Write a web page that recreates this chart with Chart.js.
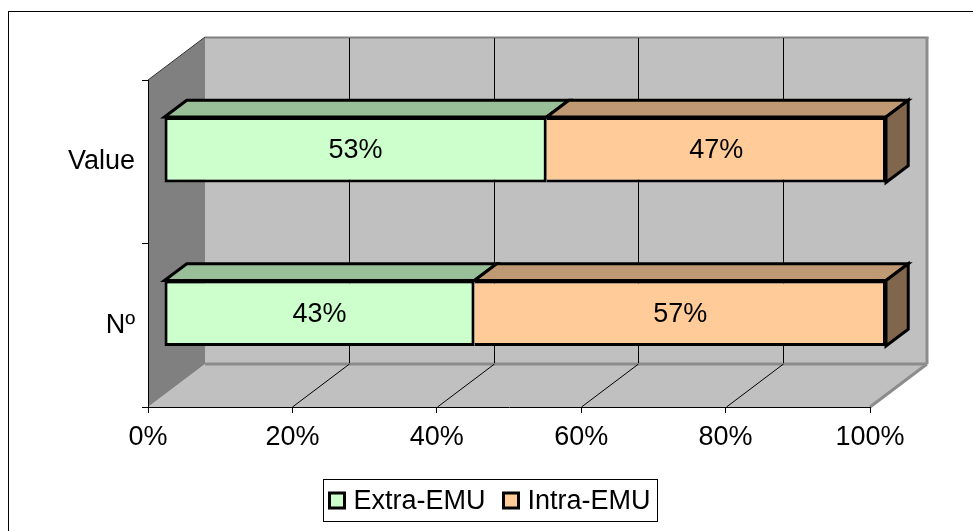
<!DOCTYPE html>
<html>
<head>
<meta charset="utf-8">
<script src="https://cdn.jsdelivr.net/npm/chart.js@4.4.0/dist/chart.umd.min.js"></script>
<style>
  html, body { margin: 0; padding: 0; background: #fff; }
  canvas { display: block; }
</style>
</head>
<body>
<canvas id="chart" width="973" height="531"></canvas>
<script>
// Share of trade outside / inside the euro area, by value and by number
const categories = ['Value', 'Nº'];
const seriesNames = ['Extra-EMU', 'Intra-EMU'];
const extraEmu = [53, 43];
const intraEmu = [47, 57];
const tickValues = [0, 20, 40, 60, 80, 100];

const FONT_FAMILY = '"Liberation Sans", Arial, Helvetica, sans-serif';
const FONT_SIZE = 27;
const FRONT_COLORS = ['#CCFFCC', '#FFCC99'];

// Perspective depth of the plot box and where the bars sit inside it
const DEPTH = { x: 57, y: -43 };
const BAR_FRONT = 0.28;
const BAR_BACK = 0.67;

function shade(hex, k) {
  const n = parseInt(hex.slice(1), 16);
  const r = Math.round(((n >> 16) & 255) * k);
  const g = Math.round(((n >> 8) & 255) * k);
  const b = Math.round((n & 255) * k);
  return 'rgb(' + r + ',' + g + ',' + b + ')';
}

function polygon(ctx, pts, fill, stroke, lw) {
  ctx.beginPath();
  ctx.moveTo(pts[0][0], pts[0][1]);
  for (let i = 1; i < pts.length; i++) ctx.lineTo(pts[i][0], pts[i][1]);
  ctx.closePath();
  if (fill) { ctx.fillStyle = fill; ctx.fill(); }
  if (stroke) { ctx.strokeStyle = stroke; ctx.lineWidth = lw || 1; ctx.stroke(); }
}

function line(ctx, x1, y1, x2, y2, color, lw) {
  ctx.beginPath();
  ctx.moveTo(x1, y1);
  ctx.lineTo(x2, y2);
  ctx.strokeStyle = color;
  ctx.lineWidth = lw;
  ctx.stroke();
}

const barOffset = () => ({
  x: Math.round(BAR_FRONT * DEPTH.x),
  y: Math.round(BAR_FRONT * DEPTH.y)
});

// Walls, floor, 3D bar faces, value labels and the boxed legend
const box3d = {
  id: 'box3d',
  beforeDraw(chart) {
    const { ctx, chartArea: a, scales } = chart;
    const xs = scales.x;
    const L = a.left, R = a.right, T = a.top, B = a.bottom;
    const dx = DEPTH.x, dy = DEPTH.y;
    ctx.save();
    ctx.fillStyle = '#fff';
    ctx.fillRect(0, 0, chart.width, chart.height);
    // outer frame
    ctx.strokeStyle = '#000';
    ctx.lineWidth = 1;
    ctx.strokeRect(8.5, 11.5, chart.width + 20, chart.height + 20);

    // back wall
    polygon(ctx, [[L + dx, T + dy], [R + dx, T + dy], [R + dx, B + dy], [L + dx, B + dy]], '#C0C0C0');
    // floor
    polygon(ctx, [[L, B], [R, B], [R + dx, B + dy], [L + dx, B + dy]], '#C0C0C0');
    // side wall
    polygon(ctx, [[L, T], [L + dx, T + dy], [L + dx, B + dy], [L, B]], '#808080');

    // wall edges
    line(ctx, L + dx, T + dy + 0.5, R + dx + 1.5, T + dy + 0.5, '#808080', 2);
    line(ctx, R + dx, T + dy, R + dx, B + dy, '#8C8C8C', 3);
    line(ctx, L + dx, B + dy, R + dx, B + dy, '#8C8C8C', 3);
    line(ctx, R, B, R + dx, B + dy, '#8C8C8C', 3);
    line(ctx, L, T, L + dx, T + dy, '#333', 1);

    // gridlines on the back wall and across the floor
    tickValues.forEach(v => {
      if (v === tickValues[0] || v === tickValues[tickValues.length - 1]) return;
      const px = Math.round(xs.getPixelForValue(v)) + 0.5;
      line(ctx, px + dx, T + dy + 1, px + dx, B + dy - 1, '#000', 1);
      line(ctx, px, B, px + dx, B + dy, '#000', 1);
    });
    ctx.restore();
  },
  beforeDatasetsDraw(chart) {
    const { ctx } = chart;
    const off = barOffset();
    const bdx = (BAR_BACK - BAR_FRONT) * DEPTH.x;
    const bdy = (BAR_BACK - BAR_FRONT) * DEPTH.y;
    ctx.save();
    ctx.lineJoin = 'miter';
    const nSets = chart.data.datasets.length;
    chart.data.datasets.forEach((ds, di) => {
      const meta = chart.getDatasetMeta(di);
      meta.data.forEach(el => {
        const x0 = Math.min(el.base, el.x) + off.x;
        const x1 = Math.max(el.base, el.x) + off.x;
        const yTop = el.y - el.height / 2 + off.y;
        const yBot = el.y + el.height / 2 + off.y;
        const col = FRONT_COLORS[di];
        // top face
        polygon(ctx, [[x0, yTop], [x0 + bdx, yTop + bdy], [x1 + bdx, yTop + bdy], [x1, yTop]],
          shade(col, 0.75), '#000', 3);
        // right face of the last segment
        if (di === nSets - 1) {
          polygon(ctx, [[x1, yTop], [x1 + bdx, yTop + bdy], [x1 + bdx, yBot + bdy], [x1, yBot]],
            shade(col, 0.5), '#000', 3);
        }
      });
    });
    ctx.restore();
    // front faces are drawn by the bar elements, shifted into the box
    ctx.save();
    ctx.translate(off.x, off.y);
  },
  afterDatasetsDraw(chart) {
    const { ctx } = chart;
    ctx.restore();
    const off = barOffset();
    ctx.save();
    ctx.font = FONT_SIZE + 'px ' + FONT_FAMILY;
    ctx.fillStyle = '#000';
    ctx.textAlign = 'center';
    ctx.textBaseline = 'middle';
    chart.data.datasets.forEach((ds, di) => {
      const meta = chart.getDatasetMeta(di);
      meta.data.forEach((el, i) => {
        const cx = (el.base + el.x) / 2 + off.x;
        const cy = el.y + off.y + 1;
        ctx.fillText(ds.data[i] + '%', cx, cy);
      });
    });
    ctx.restore();
  },
  afterDraw(chart) {
    const { ctx } = chart;
    ctx.save();
    ctx.font = FONT_SIZE + 'px ' + FONT_FAMILY;
    ctx.textBaseline = 'middle';
    ctx.textAlign = 'left';
    const box = 15, gapBox = 9, gapItem = 18, padX = 6;
    const items = chart.data.datasets.map((ds, i) => ({
      label: ds.label, color: FRONT_COLORS[i], w: ctx.measureText(ds.label).width
    }));
    let total = 0;
    items.forEach((it, i) => { total += box + gapBox + it.w + (i < items.length - 1 ? gapItem : 0); });
    const cx = 490;
    const top = 479.5, bottom = 521.5;
    const left = Math.round(cx - total / 2 - padX) + 0.5;
    const right = Math.round(cx + total / 2 + padX) + 0.5;
    ctx.strokeStyle = '#000';
    ctx.lineWidth = 1;
    ctx.strokeRect(left, top, right - left, bottom - top);
    let x = left + padX;
    const my = (top + bottom) / 2;
    items.forEach(it => {
      ctx.fillStyle = it.color;
      ctx.fillRect(x, my - box / 2, box, box);
      ctx.strokeStyle = '#000';
      ctx.lineWidth = 3;
      ctx.strokeRect(x, my - box / 2, box, box);
      x += box + gapBox;
      ctx.fillStyle = '#000';
      ctx.fillText(it.label, x, my + 1);
      x += it.w + gapItem;
    });
    ctx.restore();
  }
};

new Chart(document.getElementById('chart'), {
  type: 'bar',
  data: {
    labels: categories,
    datasets: [
      {
        label: seriesNames[0],
        data: extraEmu,
        backgroundColor: FRONT_COLORS[0],
        borderColor: '#000',
        borderWidth: 3,
        borderSkipped: false,
        clip: false
      },
      {
        label: seriesNames[1],
        data: intraEmu,
        backgroundColor: FRONT_COLORS[1],
        borderColor: '#000',
        borderWidth: 3,
        borderSkipped: 'left',
        clip: false
      }
    ]
  },
  options: {
    indexAxis: 'y',
    responsive: false,
    devicePixelRatio: 1,
    animation: false,
    events: [],
    layout: { padding: { left: 0, top: 80, right: 103, bottom: 0 } },
    datasets: { bar: { categoryPercentage: 1, barPercentage: 0.4 } },
    plugins: { legend: { display: false }, tooltip: { enabled: false } },
    scales: {
      x: {
        type: 'linear',
        stacked: true,
        min: 0,
        max: 100,
        afterBuildTicks(scale) { scale.ticks = tickValues.map(v => ({ value: v })); },
        afterFit(scale) {
          scale.height = 124;
          scale.paddingLeft = 0;
          scale.paddingRight = 0;
        },
        ticks: {
          color: '#000',
          padding: 8,
          maxRotation: 0,
          font: { family: FONT_FAMILY, size: FONT_SIZE },
          callback: v => v + '%'
        },
        grid: { drawOnChartArea: false, drawTicks: true, tickLength: 6, color: '#000', lineWidth: 1 },
        border: { display: true, color: '#000', width: 1 }
      },
      y: {
        type: 'category',
        stacked: true,
        afterFit(scale) {
          scale.width = 148;
          scale.paddingTop = 0;
          scale.paddingBottom = 0;
        },
        ticks: {
          color: '#000',
          padding: 7,
          font: { family: FONT_FAMILY, size: FONT_SIZE }
        },
        grid: { offset: true, drawOnChartArea: false, drawTicks: true, tickLength: 6, color: '#000', lineWidth: 1 },
        border: { display: true, color: '#000', width: 1 }
      }
    }
  },
  plugins: [box3d]
});
</script>
</body>
</html>
